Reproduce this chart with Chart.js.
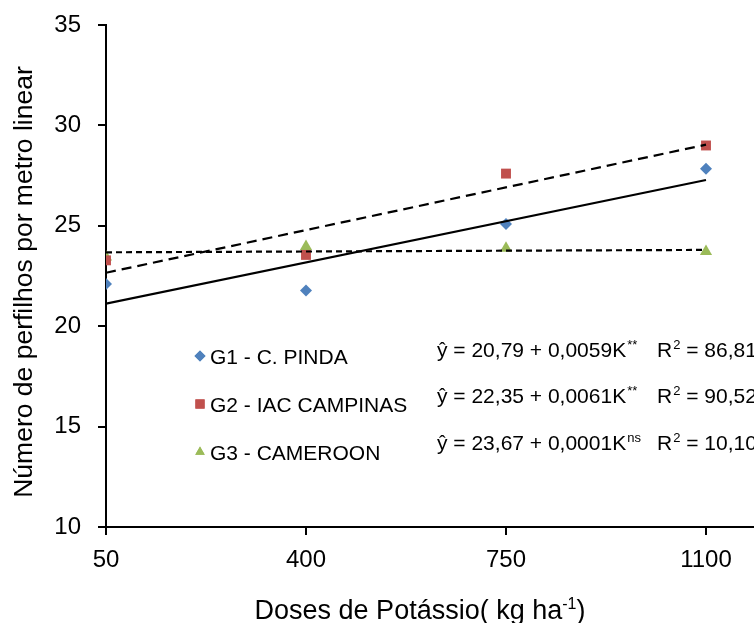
<!DOCTYPE html>
<html>
<head>
<meta charset="utf-8">
<script src="https://cdn.jsdelivr.net/npm/chart.js@4.4.1/dist/chart.umd.min.js"></script>
<style>
  html, body { margin: 0; padding: 0; background: #fff; }
  #wrap { width: 754px; height: 623px; position: relative; }
</style>
</head>
<body>
<div id="wrap"><canvas id="c" width="754" height="623"></canvas></div>
<script>
// ---- data ----
const doses = [50, 400, 750, 1100];
const xTicks = [50, 400, 750, 1100];
const yTicks = [10, 15, 20, 25, 30, 35];
const g1 = [22.1, 21.78, 25.09, 27.84];
const g2 = [23.28, 23.55, 27.6, 29.0];
const g3 = [23.45, 23.97, 23.88, 23.72];
const trendX = [50, 1100];
const trendG1 = [21.12, 27.28];
const trendG2 = [22.66, 29.04];
const trendG3 = [23.68, 23.8];
const seriesNames = ['G1 - C. PINDA', 'G2 - IAC CAMPINAS', 'G3 - CAMEROON'];
const eqMain = ['ŷ = 20,79 + 0,0059K', 'ŷ = 22,35 + 0,0061K', 'ŷ = 23,67 + 0,0001K'];
const eqSig = ['**', '**', 'ns'];
const eqR2 = ['86,81', '90,52', '10,10'];
const xTitle = 'Doses de Potássio( kg ha';
const xTitleSup = '-1';
const yTitle = 'Número de perfilhos por metro linear';

const colors = ['#4F81BD', '#C0504D', '#9BBB59'];
const styles = ['rectRot', 'rect', 'triangle'];
const FONT = '"Liberation Sans", Arial, sans-serif';

const pts = (xs, ys) => xs.map((x, i) => ({ x: x, y: ys[i] }));

const overlay = {
  id: 'overlay',
  afterDraw(chart) {
    const ctx = chart.ctx;
    ctx.save();
    ctx.fillStyle = '#000';
    // Y title
    ctx.save();
    ctx.translate(25, 282);
    ctx.rotate(-Math.PI / 2);
    ctx.font = '26.5px ' + FONT;
    ctx.textAlign = 'center';
    ctx.textBaseline = 'middle';
    ctx.fillText(yTitle, 0, 0);
    ctx.restore();
    // X title with superscript
    ctx.font = '27px ' + FONT;
    ctx.textBaseline = 'alphabetic';
    ctx.textAlign = 'left';
    const w1 = ctx.measureText(xTitle).width;
    ctx.font = '16px ' + FONT;
    const ws = ctx.measureText(xTitleSup).width;
    ctx.font = '27px ' + FONT;
    const w3 = ctx.measureText(')').width;
    let x0 = 420 - (w1 + ws + w3) / 2;
    const by = 619;
    ctx.fillText(xTitle, x0, by);
    ctx.font = '16px ' + FONT;
    ctx.fillText(xTitleSup, x0 + w1, by - 10);
    ctx.font = '27px ' + FONT;
    ctx.fillText(')', x0 + w1 + ws, by);

    // legend
    const legY = [364, 412, 460];
    const markY = [356, 404, 452];
    for (let i = 0; i < 3; i++) {
      ctx.fillStyle = colors[i];
      Chart.helpers.drawPoint(ctx, { pointStyle: styles[i], radius: i === 1 ? 6.5 : 5.5, rotation: 0, borderWidth: 0 }, 200, markY[i]);
      ctx.fill();
      ctx.fillStyle = '#000';
      ctx.font = '21px ' + FONT;
      ctx.textAlign = 'left';
      ctx.fillText(seriesNames[i], 210, legY[i]);
    }
    // equations
    const eqY = [357, 403, 450];
    for (let i = 0; i < 3; i++) {
      let x = 437;
      ctx.font = '21px ' + FONT;
      ctx.fillText(eqMain[i], x, eqY[i]);
      x += ctx.measureText(eqMain[i]).width;
      ctx.font = '13px ' + FONT;
      ctx.fillText(eqSig[i], x + 1, eqY[i] - 8);
      x = 657;
      ctx.font = '21px ' + FONT;
      ctx.fillText('R', x, eqY[i]);
      x += ctx.measureText('R').width + 1;
      ctx.font = '13px ' + FONT;
      ctx.fillText('2', x, eqY[i] - 8);
      x += ctx.measureText('2').width;
      ctx.font = '21px ' + FONT;
      ctx.fillText(' = ' + eqR2[i], x, eqY[i]);
    }
    ctx.restore();
  }
};

new Chart(document.getElementById('c'), {
  type: 'scatter',
  data: {
    datasets: [
      { type: 'line', label: 'trend G1', data: pts(trendX, trendG1), borderColor: '#000', borderWidth: 2.2, pointRadius: 0, fill: false, order: 0 },
      { type: 'line', label: 'trend G2', data: pts(trendX, trendG2), borderColor: '#000', borderWidth: 2.2, borderDash: [10, 6], pointRadius: 0, fill: false, order: 0 },
      { type: 'line', label: 'trend G3', data: pts(trendX, trendG3), borderColor: '#000', borderWidth: 2.2, borderDash: [6, 4], pointRadius: 0, fill: false, order: 0 },
      { label: seriesNames[0], data: pts(doses, g1), pointStyle: 'rectRot', pointRadius: 6, backgroundColor: colors[0], borderWidth: 0, order: 1 },
      { label: seriesNames[1], data: pts(doses, g2), pointStyle: 'rect', pointRadius: 7, backgroundColor: colors[1], borderWidth: 0, order: 1 },
      { label: seriesNames[2], data: pts(doses, g3), pointStyle: 'triangle', pointRadius: 7, backgroundColor: colors[2], borderWidth: 0, order: 1 }
    ]
  },
  options: {
    responsive: false,
    animation: false,
    layout: { autoPadding: false, padding: { top: 25, right: 0, left: 0, bottom: 0 } },
    plugins: { legend: { display: false }, tooltip: { enabled: false } },
    scales: {
      x: {
        type: 'linear',
        min: 50,
        max: 1184,
        afterBuildTicks: (s) => { s.ticks = xTicks.map(v => ({ value: v })); },
        afterFit: (s) => { s.height = 96; s.paddingRight = 0; s.paddingLeft = 0; },
        grid: { drawOnChartArea: false, drawTicks: true, tickLength: 8, color: '#000', lineWidth: 2 },
        border: { color: '#000', width: 2 },
        ticks: { color: '#000', font: { family: FONT, size: 24 }, padding: 11, maxRotation: 0, callback: (v) => String(v) }
      },
      y: {
        type: 'linear',
        min: 10,
        max: 35,
        afterBuildTicks: (s) => { s.ticks = yTicks.map(v => ({ value: v })); },
        afterFit: (s) => { s.width = 106; s.paddingTop = 0; s.paddingBottom = 0; },
        grid: { drawOnChartArea: false, drawTicks: true, tickLength: 8, color: '#000', lineWidth: 2 },
        border: { color: '#000', width: 2 },
        ticks: { color: '#000', font: { family: FONT, size: 24 }, padding: 17, callback: (v) => String(v) }
      }
    }
  },
  plugins: [overlay]
});
</script>
</body>
</html>
